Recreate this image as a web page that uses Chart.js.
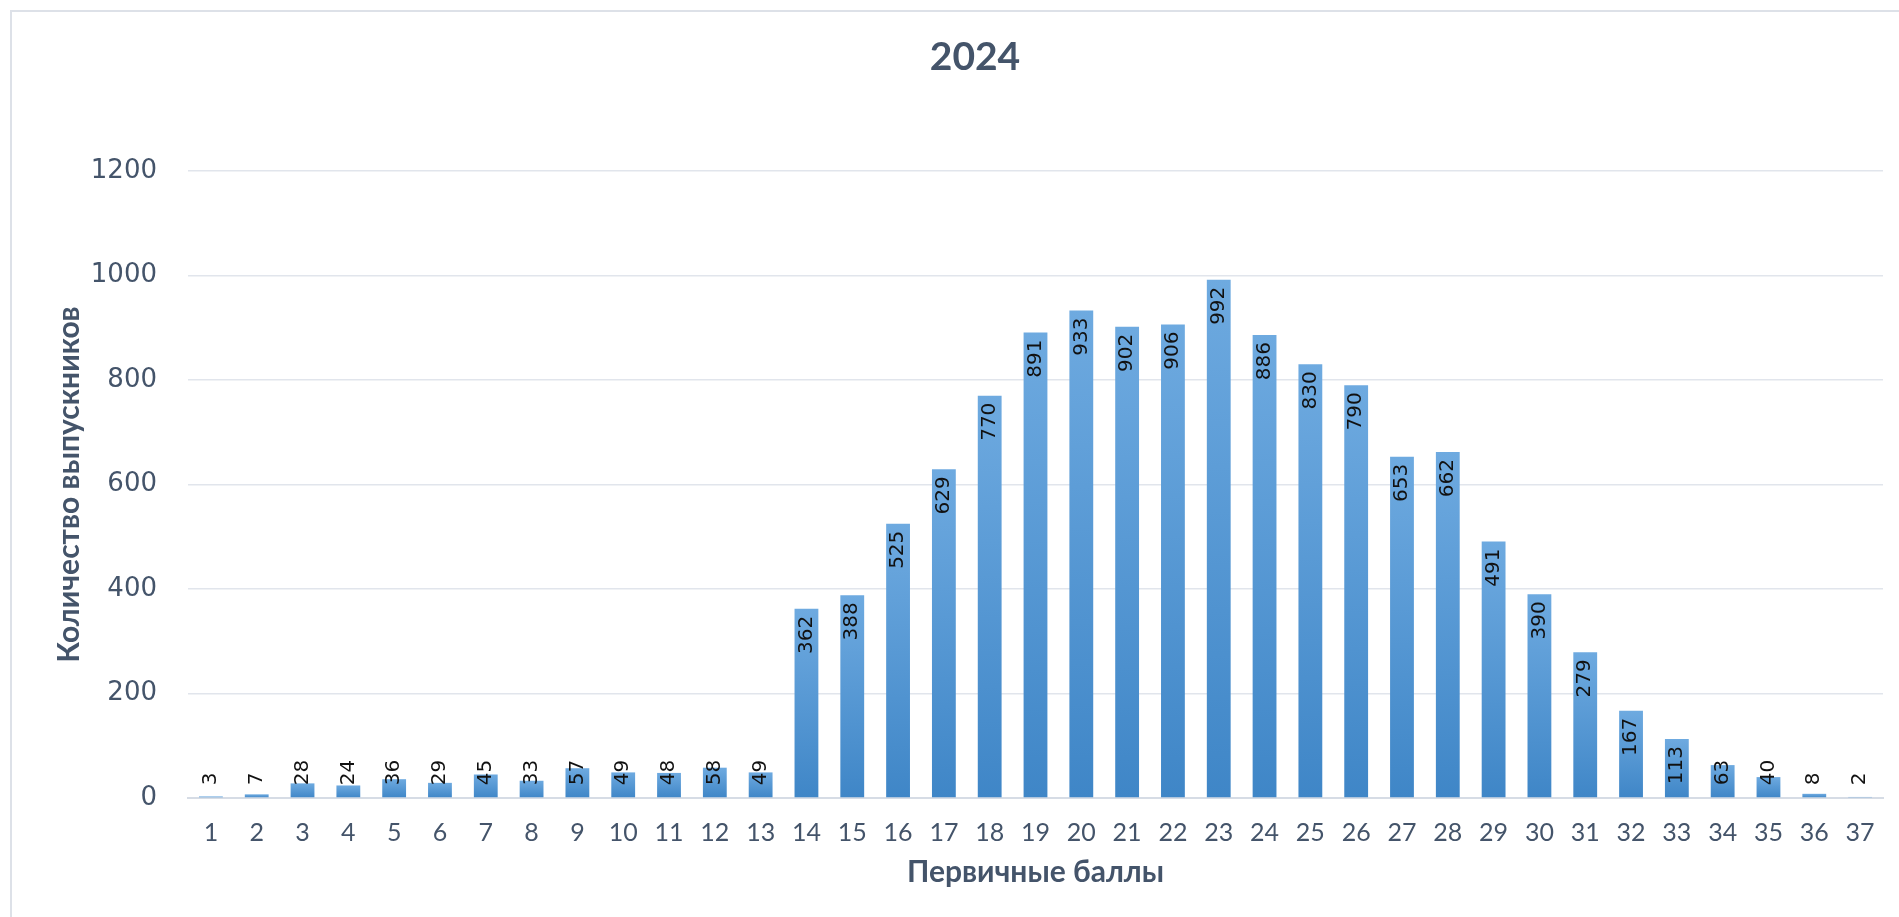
<!DOCTYPE html>
<html lang="ru">
<head>
<meta charset="utf-8">
<title>2024</title>
<script src="https://cdn.jsdelivr.net/npm/chart.js@4.4.1/dist/chart.umd.min.js"></script>
<style>
  html, body { margin:0; padding:0; background:#fff; overflow:hidden; }
  #wrap { position:relative; width:1899px; height:917px; }
  .frame { position:absolute; left:10px; top:10px; right:-10px; bottom:-10px; border:2px solid #dde1e8; }
  canvas { position:absolute; left:0; top:0; }
</style>
</head>
<body>
<div id="wrap">
  <div class="frame"></div>
  <canvas id="chart" width="1899" height="917"></canvas>
</div>
<script>
// данные: первичные баллы и количество выпускников
const chartTitle = '2024';
const scores = ['1','2','3','4','5','6','7','8','9','10','11','12','13','14','15','16','17','18','19',
  '20','21','22','23','24','25','26','27','28','29','30','31','32','33','34','35','36','37'];
const graduates = [3,7,28,24,36,29,45,33,57,49,48,58,49,362,388,525,629,770,891,
  933,902,906,992,886,830,790,653,662,491,390,279,167,113,63,40,8,2];
const yTicks = [0,200,400,600,800,1000,1200];

const TEXT = '#44546a';
const SANS = 'Lato, "Open Sans", sans-serif';

// bar fill: light at the top of each bar, darker at its base
function barFill(c) {
  const chart = c.chart, y = chart.scales.y;
  if (!y || c.raw == null) return '#5b9bd5';
  const top = y.getPixelForValue(c.raw), base = y.getPixelForValue(0);
  if (!(base - top > 1)) return '#5b9bd5';
  const g = chart.ctx.createLinearGradient(0, top, 0, base);
  g.addColorStop(0, '#6eaae0');
  g.addColorStop(1, '#3f86c7');
  return g;
}

// title centred on the framed box rather than the canvas
const boxTitle = {
  id: 'boxTitle',
  afterDraw(chart) {
    const ctx = chart.ctx;
    ctx.save();
    ctx.font = 'bold 39px ' + SANS;
    ctx.fillStyle = TEXT;
    ctx.textAlign = 'center';
    ctx.textBaseline = 'middle';
    ctx.fillText(chartTitle, 975, 57);
    ctx.restore();
  }
};

// rotated value labels, inside end of bar (pushed up for short bars)
const valueLabels = {
  id: 'valueLabels',
  afterDatasetsDraw(chart) {
    const ctx = chart.ctx;
    const meta = chart.getDatasetMeta(0);
    ctx.save();
    ctx.font = '20px "DejaVu Sans"';
    ctx.fillStyle = '#111';
    ctx.textAlign = 'left';
    ctx.textBaseline = 'middle';
    meta.data.forEach((bar, i) => {
      const txt = String(graduates[i]);
      const w = ctx.measureText(txt).width;
      let top = bar.y + 7;
      if (top + w > bar.base - 12) top = bar.base - 12 - w;
      ctx.save();
      ctx.translate(bar.x, top + w);
      ctx.rotate(-Math.PI / 2);
      ctx.fillText(txt, 0, 0);
      ctx.restore();
    });
    ctx.restore();
  }
};

new Chart(document.getElementById('chart').getContext('2d'), {
  type: 'bar',
  data: {
    labels: scores,
    datasets: [{ data: graduates, backgroundColor: barFill,
      borderWidth: 0, barPercentage: 0.52, categoryPercentage: 1 }]
  },
  options: {
    responsive: false, animation: false, devicePixelRatio: 1,
    layout: { padding: { left: 0, right: 16, top: 171, bottom: 0 } },
    plugins: {
      legend: { display: false },
      tooltip: { enabled: false },
      title: { display: false }
    },
    scales: {
      x: {
        grid: { display: false, drawTicks: false },
        border: { color: '#d6dce5', width: 2 },
        ticks: { color: TEXT, padding: 20, font: { family: SANS, size: 25 } },
        title: { display: true, text: 'Первичные баллы', color: TEXT,
          font: { family: SANS, size: 30, weight: 'bold' },
          padding: { top: 0, bottom: 27 } },
        afterFit(s) { s.height = 119; }
      },
      y: {
        min: 0, max: 1200,
        afterBuildTicks(s) { s.ticks = yTicks.map(v => ({ value: v })); },
        grid: { color: '#e1e5ec', lineWidth: 1.5, drawTicks: false },
        border: { display: false },
        ticks: { color: TEXT, padding: 31, callback: v => String(v),
          font: { family: '"DejaVu Sans", sans-serif', size: 26 } },
        title: { display: true, text: 'Количество выпускников', color: TEXT,
          font: { family: SANS, size: 30, weight: 'bold' },
          padding: { top: 51, bottom: 0 } },
        afterFit(s) { s.width = 188; }
      }
    }
  },
  plugins: [valueLabels, boxTitle]
});
</script>
</body>
</html>
